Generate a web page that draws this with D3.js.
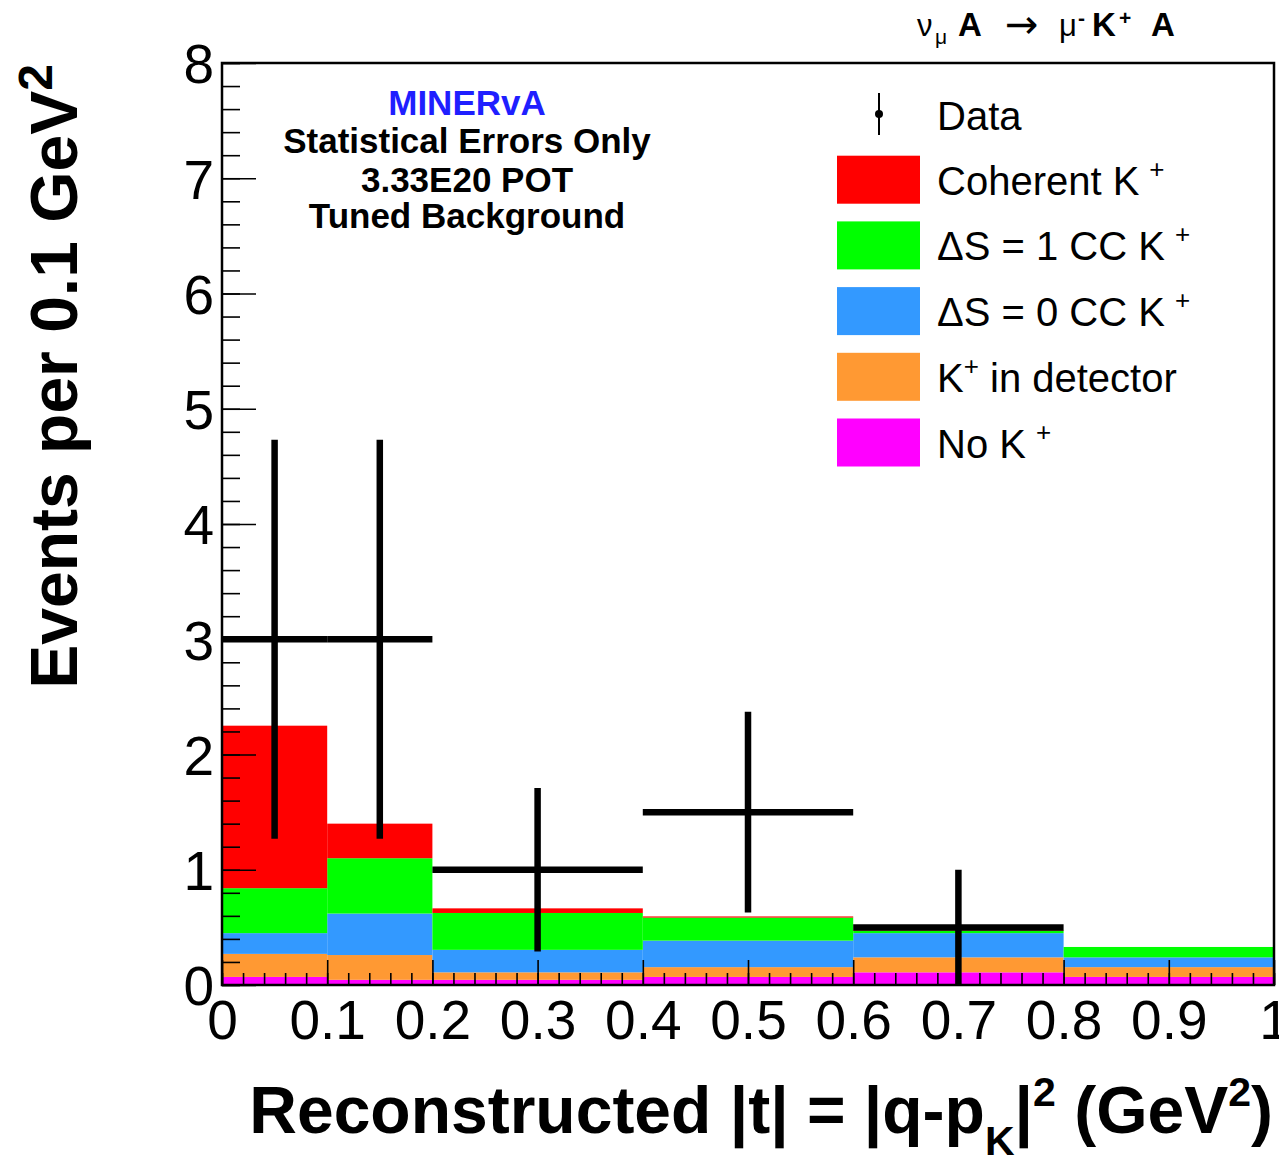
<!DOCTYPE html>
<html>
<head>
<meta charset="utf-8">
<script src="https://cdn.jsdelivr.net/npm/d3@7/dist/d3.min.js"></script>
<style>
  html, body { margin: 0; padding: 0; background: #fff; }
  svg { display: block; font-family: "Liberation Sans", Arial, Helvetica, sans-serif; }
</style>
</head>
<body>
<svg id="chart" width="1279" height="1164"></svg>
<script>
// Bin edges in |t| (GeV^2); the last four bins are 0.2 GeV^2 wide
const binEdges = [0, 0.1, 0.2, 0.4, 0.6, 0.8, 1.0];

// Stacked simulation, events per 0.1 GeV^2, bottom layer first
const noKaon      = [0.07, 0.045, 0.045, 0.07, 0.11, 0.07];
const kaonInDet   = [0.20, 0.215, 0.065, 0.085, 0.13, 0.085];
const deltaS0     = [0.18, 0.36, 0.195, 0.23, 0.21, 0.085];
const deltaS1     = [0.39, 0.48, 0.32, 0.20, 0.02, 0.09];
const coherentK   = [1.41, 0.30, 0.04, 0.01, 0.005, 0.0];

// Data points and statistical errors (null = no entry)
const dataValues = [3, 3, 1, 1.5, 0.5, null];
const dataErrors = [1.73, 1.73, 0.71, 0.87, 0.5, null];

// Axis ticks
const xTickValues = [0, 0.1, 0.2, 0.3, 0.4, 0.5, 0.6, 0.7, 0.8, 0.9, 1];
const xTickLabels = ["0", "0.1", "0.2", "0.3", "0.4", "0.5", "0.6", "0.7", "0.8", "0.9", "1"];
const yTickValues = [0, 1, 2, 3, 4, 5, 6, 7, 8];
const yTickLabels = ["0", "1", "2", "3", "4", "5", "6", "7", "8"];

const layerKeys   = ["noK", "kdet", "ds0", "ds1", "coh"];
const layerColors = { noK: "#ff00ff", kdet: "#ff9933", ds0: "#3399ff", ds1: "#00ff00", coh: "#ff0000" };
const legendRows = [
  { key: "coh", label: "Coherent K", sup: "+", gap: true },
  { key: "ds1", label: "\u0394S = 1 CC K", sup: "+", gap: true },
  { key: "ds0", label: "\u0394S = 0 CC K", sup: "+", gap: true },
  { key: "kdet", label: "K", sup: "+", tail: " in detector" },
  { key: "noK", label: "No K", sup: "+", gap: true }
];

const svg = d3.select("#chart");
const plot = { left: 222, right: 1274, top: 63, bottom: 985 };

const x = d3.scaleLinear().domain([0, 1]).range([plot.left, plot.right]);
const y = d3.scaleLinear().domain([0, 8]).range([plot.bottom, plot.top]);

// Table of bins for the stack
const bins = binEdges.slice(0, -1).map((lo, i) => ({
  lo, hi: binEdges[i + 1],
  noK: noKaon[i], kdet: kaonInDet[i], ds0: deltaS0[i], ds1: deltaS1[i], coh: coherentK[i]
}));
const stacked = d3.stack().keys(layerKeys)(bins);

// Stacked histogram
const gStack = svg.append("g");
stacked.forEach(layer => {
  gStack.append("g")
    .attr("fill", layerColors[layer.key])
    .selectAll("rect")
    .data(layer)
    .join("rect")
    .attr("x", d => x(d.data.lo))
    .attr("width", d => x(d.data.hi) - x(d.data.lo))
    .attr("y", d => y(d[1]))
    .attr("height", d => Math.max(0, y(d[0]) - y(d[1])));
});

// Axes with inward ticks
const fontTick = 55;
const xMinor = d3.range(0, 1.0001, 0.02).map(v => +v.toFixed(2));
const axX = svg.append("g").attr("transform", `translate(0,${plot.bottom})`);
axX.append("g")
  .call(d3.axisBottom(x).tickValues(xMinor).tickSize(-12).tickFormat(""))
  .call(g => g.select(".domain").remove());
axX.append("g")
  .call(d3.axisBottom(x).tickValues(xTickValues).tickSize(-25).tickPadding(15)
    .tickFormat((d, i) => xTickLabels[i]))
  .call(g => g.select(".domain").remove())
  .call(g => g.selectAll("text").attr("font-size", fontTick).attr("fill", "#000")
    .attr("font-family", "'Liberation Sans', Arial, sans-serif"));
axX.selectAll("line").attr("stroke", "#000").attr("stroke-width", 1.6);

const yMinor = d3.range(0, 8.0001, 0.2).map(v => +v.toFixed(1));
const axY = svg.append("g").attr("transform", `translate(${plot.left},0)`);
axY.append("g")
  .call(d3.axisLeft(y).tickValues(yMinor).tickSize(-18).tickFormat(""))
  .call(g => g.select(".domain").remove());
axY.append("g")
  .call(d3.axisLeft(y).tickValues(yTickValues).tickSize(-34).tickPadding(8)
    .tickFormat((d, i) => yTickLabels[i]))
  .call(g => g.select(".domain").remove())
  .call(g => g.selectAll("text").attr("font-size", fontTick).attr("fill", "#000")
    .attr("dy", "0.36em").attr("font-family", "'Liberation Sans', Arial, sans-serif"));
axY.selectAll("line").attr("stroke", "#000").attr("stroke-width", 1.6);

// Data with error bars
const gData = svg.append("g").attr("stroke", "#000").attr("stroke-width", 6.5);
const pts = bins.map((b, i) => ({ lo: b.lo, hi: b.hi, v: dataValues[i], e: dataErrors[i] }))
  .filter(d => d.v !== null);
gData.selectAll("line.h").data(pts).join("line").attr("class", "h")
  .attr("x1", d => x(d.lo)).attr("x2", d => x(d.hi))
  .attr("y1", d => y(d.v)).attr("y2", d => y(d.v));
gData.selectAll("line.v").data(pts).join("line").attr("class", "v")
  .attr("x1", d => x((d.lo + d.hi) / 2)).attr("x2", d => x((d.lo + d.hi) / 2))
  .attr("y1", d => y(Math.max(0, d.v - d.e))).attr("y2", d => y(d.v + d.e));

// Frame
svg.append("rect")
  .attr("x", plot.left).attr("y", plot.top)
  .attr("width", plot.right - plot.left).attr("height", plot.bottom - plot.top)
  .attr("fill", "none").attr("stroke", "#000").attr("stroke-width", 2.5);

// Axis titles
const xTitle = svg.append("text")
  .attr("x", 1273).attr("y", 1133)
  .attr("text-anchor", "end")
  .attr("font-size", 66).attr("font-weight", "bold").attr("fill", "#000");
xTitle.append("tspan").text("Reconstructed |t| = |q-p");
xTitle.append("tspan").attr("font-size", 41).attr("dy", 22).text("K");
xTitle.append("tspan").attr("dy", -22).text("|");
xTitle.append("tspan").attr("font-size", 41).attr("dy", -27).text("2");
xTitle.append("tspan").attr("dy", 27).text(" (GeV");
xTitle.append("tspan").attr("font-size", 41).attr("dy", -27).text("2");
xTitle.append("tspan").attr("dy", 27).text(")");

const yTitle = svg.append("text")
  .attr("transform", "translate(77,64) rotate(-90)")
  .attr("text-anchor", "end")
  .attr("font-size", 66).attr("font-weight", "bold").attr("fill", "#000");
yTitle.append("tspan").text("Events per 0.1 GeV");
yTitle.append("tspan").attr("font-size", 48).attr("dy", -25).text("2");

// Process label, top right
const proc = svg.append("g").attr("fill", "#000");
const procParts = [
  { t: "\u03bd", x: 917, dy: 0, size: 31 },
  { t: "\u03bc", x: 935, dy: 8, size: 21 },
  { t: "A", x: 958, dy: 0, size: 33, bold: true },
  { t: "\u2192", x: 1005, dy: 2, size: 40, family: "'DejaVu Sans', sans-serif" },
  { t: "\u03bc", x: 1059, dy: 0, size: 31 },
  { t: "-", x: 1078, dy: -11, size: 21, bold: true },
  { t: "K", x: 1092, dy: 0, size: 33, bold: true },
  { t: "+", x: 1119, dy: -11, size: 21, bold: true },
  { t: "A", x: 1151, dy: 0, size: 33, bold: true }
];
proc.selectAll("text").data(procParts).join("text")
  .attr("x", d => d.x).attr("y", d => 36 + d.dy)
  .attr("font-size", d => d.size)
  .attr("font-weight", d => d.bold ? "bold" : "normal")
  .attr("font-family", d => d.family || null)
  .text(d => d.t);

// Info block, top left
const info = [
  { t: "MINERvA", c: "#1f1fff", yb: 115 },
  { t: "Statistical Errors Only", c: "#000", yb: 153 },
  { t: "3.33E20 POT", c: "#000", yb: 192 },
  { t: "Tuned Background", c: "#000", yb: 228 }
];
svg.append("g").selectAll("text").data(info).join("text")
  .attr("x", 467).attr("y", d => d.yb)
  .attr("text-anchor", "middle")
  .attr("font-size", 35).attr("font-weight", "bold")
  .attr("fill", d => d.c).text(d => d.t);

// Legend
const lg = svg.append("g");
const swX = 837, swW = 83, swH = 48, textX = 937, rowStep = 65.7, firstRow = 114;
// Data entry
lg.append("line").attr("x1", 879).attr("x2", 879).attr("y1", firstRow - 21).attr("y2", firstRow + 21)
  .attr("stroke", "#000").attr("stroke-width", 2);
lg.append("circle").attr("cx", 879).attr("cy", firstRow).attr("r", 4).attr("fill", "#000");
lg.append("text").attr("x", textX).attr("y", firstRow + 16).attr("font-size", 40).attr("fill", "#000").text("Data");

legendRows.forEach((r, i) => {
  const cy = firstRow + rowStep * (i + 1);
  lg.append("rect").attr("x", swX).attr("y", cy - swH / 2).attr("width", swW).attr("height", swH)
    .attr("fill", layerColors[r.key]);
  const t = lg.append("text").attr("x", textX).attr("y", cy + 15).attr("font-size", 40).attr("fill", "#000");
  t.append("tspan").text(r.label);
  t.append("tspan").attr("font-size", 26).attr("dy", -17).attr("dx", r.gap ? 10 : 0).text(r.sup);
  if (r.tail) t.append("tspan").attr("dy", 17).text(r.tail);
});
</script>
</body>
</html>
